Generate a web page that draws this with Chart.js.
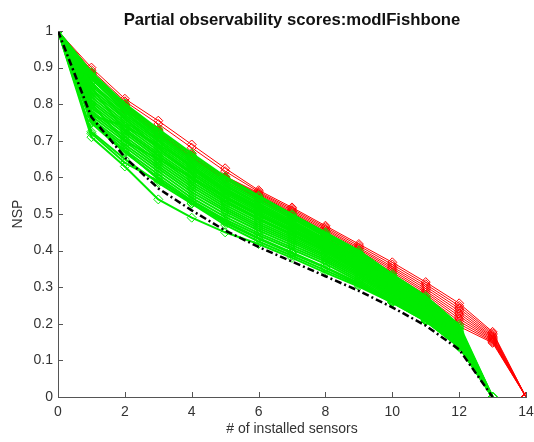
<!DOCTYPE html>
<html>
<head>
<meta charset="utf-8">
<script src="https://cdn.jsdelivr.net/npm/chart.js@4"></script>
<style>
  body { margin: 0; background: #fff; }
</style>
</head>
<body>
<canvas id="myChart" width="534" height="442"></canvas>
<script>
// number of installed sensors (x)
var sensors = [0, 1, 2, 3, 4, 5, 6, 7, 8, 9, 10, 11, 12, 13, 14];
var xTickLabels = ['0', '2', '4', '6', '8', '10', '12', '14'];
var yTickLabels = ['0', '0.1', '0.2', '0.3', '0.4', '0.5', '0.6', '0.7', '0.8', '0.9', '1'];

// red runs (reach 0 at 14 sensors)
var redRuns = [
    [1, .900, .815, .755, .690, .625, .565, .518, .468, .418, .368, .314, .256, .178, 0],
    [1, .893, .808, .746, .681, .617, .561, .514, .464, .413, .362, .308, .249, .174, 0],
    [1, .886, .800, .730, .664, .603, .558, .510, .460, .408, .356, .302, .242, .170, 0],
    [1, .885, .798, .728, .661, .601, .555, .506, .456, .404, .351, .296, .235, .166, 0],
    [1, .884, .796, .726, .659, .600, .552, .503, .452, .400, .346, .290, .228, .163, 0],
    [1, .883, .794, .724, .657, .599, .549, .500, .449, .396, .341, .285, .221, .160, 0],
    [1, .882, .792, .722, .655, .598, .547, .497, .446, .392, .336, .280, .214, .157, 0],
    [1, .881, .790, .720, .653, .597, .545, .495, .443, .388, .331, .275, .207, .154, 0],
    [1, .880, .788, .718, .651, .596, .543, .492, .440, .384, .326, .270, .200, .151, 0],
    [1, .878, .786, .716, .649, .595, .541, .490, .437, .380, .321, .265, .193, .148, 0]
];

// green runs (reach 0 at 13 sensors)
var greenRuns = [
    [1, .888, .802, .732, .666, .602, .550, .500, .450, .400, .336, .276, .197, 0],
    [1, .882, .796, .726, .660, .596, .546, .496, .446, .395, .332, .272, .192, 0],
    [1, .876, .790, .720, .653, .590, .540, .491, .442, .391, .328, .268, .188, 0],
    [1, .868, .784, .715, .648, .585, .535, .487, .438, .387, .324, .264, .184, 0],
    [1, .858, .778, .710, .643, .580, .530, .482, .433, .383, .320, .260, .180, 0],
    [1, .850, .772, .704, .638, .576, .526, .478, .430, .379, .316, .256, .177, 0],
    [1, .842, .766, .698, .633, .571, .521, .474, .426, .375, .312, .252, .174, 0],
    [1, .835, .760, .692, .627, .566, .516, .470, .422, .371, .309, .248, .170, 0],
    [1, .828, .752, .686, .621, .560, .511, .465, .418, .367, .305, .244, .167, 0],
    [1, .820, .746, .680, .615, .555, .506, .460, .414, .363, .301, .241, .164, 0],
    [1, .812, .740, .673, .609, .549, .501, .456, .410, .359, .297, .237, .161, 0],
    [1, .805, .733, .666, .602, .543, .495, .451, .406, .355, .293, .234, .158, 0],
    [1, .798, .726, .659, .595, .537, .489, .446, .402, .351, .290, .231, .155, 0],
    [1, .790, .720, .652, .588, .531, .484, .441, .398, .347, .286, .228, .152, 0],
    [1, .782, .712, .645, .581, .525, .478, .436, .394, .343, .283, .225, .150, 0],
    [1, .775, .705, .638, .574, .519, .472, .431, .389, .339, .279, .222, .148, 0],
    [1, .768, .698, .631, .567, .513, .466, .426, .385, .335, .276, .219, .146, 0],
    [1, .760, .690, .624, .560, .507, .461, .421, .380, .331, .272, .216, .144, 0],
    [1, .755, .683, .616, .552, .500, .455, .415, .375, .326, .268, .213, .142, 0],
    [1, .752, .675, .608, .544, .492, .448, .409, .370, .321, .264, .210, .140, 0],
    [1, .748, .668, .600, .537, .485, .442, .403, .364, .316, .260, .207, .139, 0],
    [1, .750, .672, .595, .530, .476, .432, .392, .353, .309, .264, .211, .141, 0],
    [1, .720, .640, .590, .535, .480, .435, .395, .355, .312, .262, .210, .140, 0],
    [1, .710, .630, .540, .490, .450, .418, .380, .340, .302, .258, .208, .138, 0],
    [1, .725, .650, .585, .528, .470, .425, .386, .346, .306, .258, .207, .136, 0],
    [1, .860, .760, .680, .610, .548, .500, .455, .410, .360, .298, .238, .160, 0],
    [1, .770, .740, .690, .630, .568, .520, .474, .426, .375, .312, .252, .174, 0],
    [1, .800, .700, .650, .600, .545, .497, .452, .406, .356, .294, .234, .156, 0],
    [1, .845, .728, .660, .596, .536, .488, .445, .400, .350, .290, .231, .152, 0],
    [1, .872, .780, .700, .625, .562, .512, .466, .419, .368, .306, .246, .168, 0]
];

// black dash-dot reference curve
var bestRun = [1, .765, .655, .570, .510, .455, .410, .370, .330, .290, .245, .195, .130, 0];

function toPoints(values) {
    return values.map(function (v, i) { return { x: sensors[i], y: v }; });
}

var datasets = [];
datasets.push({
    data: toPoints(bestRun),
    borderColor: '#000',
    borderWidth: 2.5,
    borderDash: [7, 3, 2, 3],
    pointRadius: 0,
    order: 0
});
greenRuns.forEach(function (run) {
    datasets.push({
        data: toPoints(run),
        borderColor: 'rgb(0,235,0)',
        borderWidth: 2,
        pointStyle: 'rectRot',
        pointRadius: 4.5,
        pointBorderWidth: 1,
        pointBackgroundColor: 'rgba(0,0,0,0)',
        order: 1
    });
});
redRuns.forEach(function (run) {
    datasets.push({
        data: toPoints(run),
        borderColor: 'rgb(255,0,0)',
        borderWidth: 1,
        pointStyle: 'rectRot',
        pointRadius: 4.5,
        pointBorderWidth: 1,
        pointBackgroundColor: 'rgba(0,0,0,0)',
        order: 2
    });
});

// MATLAB style ticks pointing into the plot
var inwardTicks = {
    id: 'inwardTicks',
    afterDraw: function (chart) {
        var ctx = chart.ctx, a = chart.chartArea;
        var xs = chart.scales.x, ys = chart.scales.y;
        ctx.save();
        ctx.strokeStyle = '#555';
        ctx.lineWidth = 1;
        ctx.beginPath();
        xs.ticks.forEach(function (t) {
            var px = Math.round(xs.getPixelForValue(t.value)) + 0.5;
            ctx.moveTo(px, a.bottom);
            ctx.lineTo(px, a.bottom - 5);
        });
        ys.ticks.forEach(function (t) {
            var py = Math.round(ys.getPixelForValue(t.value)) + 0.5;
            ctx.moveTo(a.left, py);
            ctx.lineTo(a.left + 5, py);
        });
        ctx.stroke();
        ctx.restore();
    }
};

var font = 'Liberation Sans, Arial, Helvetica, sans-serif';
var ctx = document.getElementById('myChart').getContext('2d');
var chart = new Chart(ctx, {
    type: 'line',
    data: { datasets: datasets },
    options: {
        responsive: false,
        animation: false,
        layout: { padding: { top: 0, right: 8, bottom: 0, left: 0 } },
        plugins: {
            legend: { display: false },
            tooltip: { enabled: false },
            title: {
                display: true,
                fullSize: false,
                text: 'Partial observability scores:modlFishbone',
                color: '#111',
                font: { family: font, size: 16.7, weight: 'bold', lineHeight: 1.2 },
                padding: { top: 10, bottom: 1 }
            }
        },
        scales: {
            x: {
                type: 'linear',
                min: 0,
                max: 14,
                afterFit: function (s) {
                    s.height = 45;
                    s.paddingLeft = 0;
                    s.paddingRight = 0;
                },
                afterBuildTicks: function (s) {
                    s.ticks = xTickLabels.map(function (l) { return { value: Number(l) }; });
                },
                ticks: {
                    color: '#333',
                    padding: 7,
                    maxRotation: 0,
                    font: { family: font, size: 14 },
                    callback: function (v) { return xTickLabels[xTickLabels.indexOf(String(v))]; }
                },
                grid: { display: false, drawTicks: false },
                border: { display: true, color: '#555', width: 1 },
                title: {
                    display: true,
                    text: '# of installed sensors',
                    color: '#333',
                    font: { family: font, size: 14 },
                    padding: { top: 4, bottom: 4 }
                }
            },
            y: {
                min: 0,
                max: 1,
                afterFit: function (s) { s.width = 58; },
                afterBuildTicks: function (s) {
                    s.ticks = yTickLabels.map(function (l) { return { value: Number(l) }; });
                },
                ticks: {
                    color: '#333',
                    padding: 5,
                    font: { family: font, size: 14 },
                    callback: function (v, i) { return yTickLabels[i]; }
                },
                grid: { display: false, drawTicks: false },
                border: { display: true, color: '#555', width: 1 },
                title: {
                    display: true,
                    text: 'NSP',
                    color: '#333',
                    font: { family: font, size: 14 },
                    padding: { top: 10, bottom: 10 }
                }
            }
        }
    },
    plugins: [inwardTicks]
});
</script>
</body>
</html>
